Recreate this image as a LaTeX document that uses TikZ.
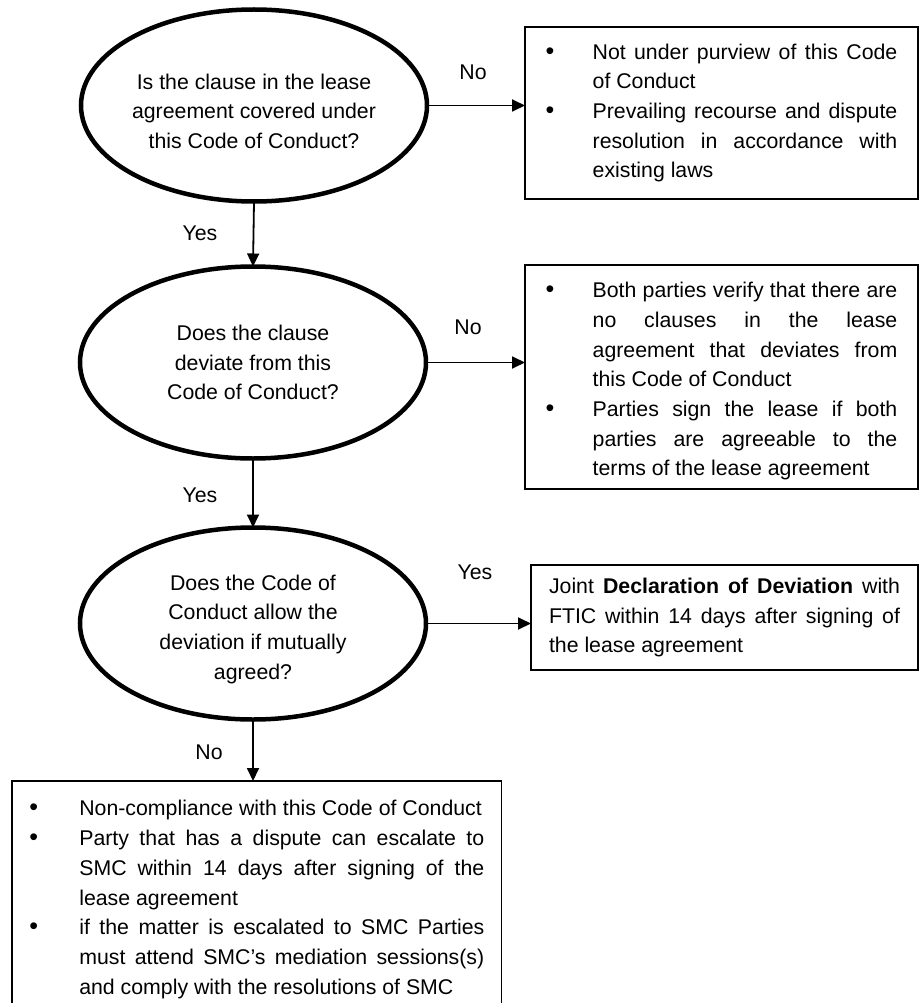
\documentclass[tikz,border=0pt]{standalone}
\usepackage{fontspec}
\setmainfont{Liberation Sans}
\usetikzlibrary{shapes.geometric,arrows.meta}
\hyphenpenalty=10000
\tolerance=10000
\newcommand{\bitem}[2][47pt]{\noindent\hangindent=#1\hangafter=1\makebox[#1][l]{\fontsize{25}{25}\selectfont •}#2\par}
\begin{document}
\begin{tikzpicture}[x=1pt,y=-1pt,
  every node/.style={font=\fontsize{21.3}{29.7}\selectfont, outer sep=0pt},
  qnode/.style={ellipse, draw, line width=4.5pt, minimum width=346pt, minimum height=192pt, inner sep=0pt, align=center},
  bx/.style={draw, line width=1.3pt, anchor=north west, align=justify, inner ysep=0pt},
  lbl/.style={inner sep=0pt},
  arr/.style={line width=1.8pt, -{Triangle[length=13pt,width=12pt]}}]
\useasboundingbox (0,0) rectangle (919,1003);
\coordinate (bot) at (0,1003);

% questions
\node[qnode] (e1) at (254,105.5) {\rule{0pt}{27pt}Is the clause in the lease\\agreement covered under\\this Code of Conduct?};
\node[qnode] (e2) at (253,362.5) {Does the clause\\deviate from this\\Code of Conduct?};
\node[qnode] (e3) at (253,623.5) {\rule{0pt}{27pt}Does the Code of\\Conduct allow the\\deviation if mutually\\agreed?};

% boxes
\node[bx, inner xsep=20.65pt, text width=351.7pt, minimum height=172pt] (b1) at (525,27)
  {\bitem{Not under purview of this Code\linebreak of Conduct}\bitem{Prevailing recourse and dispute\linebreak resolution in accordance with\linebreak existing laws}};
\node[bx, inner xsep=20.65pt, text width=351.7pt, minimum height=224pt] (b2) at (525,265)
  {\bitem{\rule{0pt}{24pt}Both parties verify that there are\linebreak no clauses in the lease\linebreak agreement that deviates from\linebreak this Code of Conduct}\bitem{Parties sign the lease if both\linebreak parties are agreeable to the\linebreak terms of the lease agreement}};
\node[bx, inner xsep=18pt, text width=351pt, minimum height=105pt] (b3) at (531,565)
  {Joint \textbf{Declaration of Deviation} with\linebreak FTIC within 14 days after signing of\linebreak the lease agreement\par};
\node[bx, draw=none, inner xsep=17.3pt, inner ysep=19.5pt, text width=455pt] (b4) at (12,781)
  {\bitem[50pt]{Non-compliance with this Code of Conduct}\bitem[50pt]{Party that has a dispute can escalate to\linebreak SMC within 14 days after signing of the\linebreak lease agreement}\bitem[50pt]{if the matter is escalated to SMC Parties\linebreak must attend SMC’s mediation sessions(s)\linebreak and comply with the resolutions of SMC}};
\draw[line width=1.3pt] (b4.north west |- bot) -- (b4.north west) -- (b4.north east) -- (b4.north east |- bot);

% labels
\node[lbl] (no1) at (473,72) {No};
\node[lbl] (yes1) at (200,233) {Yes};
\node[lbl] (no2) at (468,327) {No};
\node[lbl] (yes2) at (200,495) {Yes};
\node[lbl] (yes3) at (475,572) {Yes};
\node[lbl] (no3) at (209,752) {No};

% connectors
\draw[arr] (e1.east) -- (e1.east -| b1.west);
\draw[arr] (e1.south) -- (e2.north);
\draw[arr] (e2.east) -- (e2.east -| b2.west);
\draw[arr] (e2.south) -- (e3.north);
\draw[arr] (e3.east) -- (e3.east -| b3.west);
\draw[arr] (e3.south) -- (e3.south |- b4.north);
\end{tikzpicture}
\end{document}
